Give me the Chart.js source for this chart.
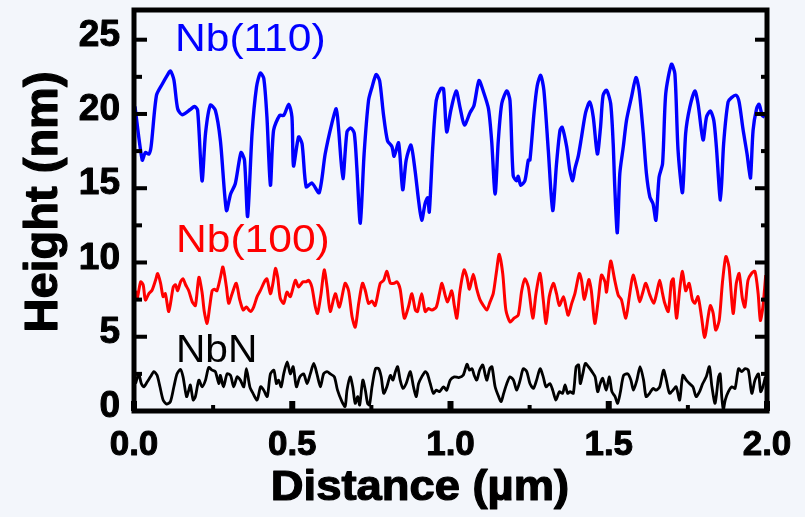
<!DOCTYPE html>
<html>
<head>
<meta charset="utf-8">
<script src="https://cdn.jsdelivr.net/npm/chart.js@4.4.1/dist/chart.umd.min.js"></script>
<style>
  body { margin: 0; background: #f3f6fb; }
</style>
</head>
<body>
<canvas id="perfil" width="805" height="517"></canvas>
<script>
// Nb(110) profile (blue)
const nb110X = [0.003,0.026,0.036,0.047,0.054,0.071,0.089,0.105,0.115,0.126,
  0.138,0.152,0.178,0.191,0.201,0.215,0.226,0.241,0.257,0.273,
  0.292,0.305,0.320,0.338,0.349,0.359,0.373,0.387,0.399,0.410,
  0.420,0.431,0.441,0.460,0.473,0.489,0.499,0.504,0.520,0.531,
  0.544,0.562,0.585,0.604,0.625,0.639,0.646,0.660,0.673,0.685,
  0.696,0.704,0.715,0.727,0.741,0.752,0.765,0.776,0.788,0.801,
  0.815,0.822,0.836,0.849,0.860,0.875,0.888,0.899,0.909,0.920,
  0.928,0.933,0.944,0.955,0.969,0.978,0.988,1.001,1.018,1.030,
  1.044,1.062,1.074,1.090,1.104,1.120,1.130,1.141,1.151,1.162,
  1.178,1.188,1.198,1.209,1.214,1.222,1.235,1.246,1.251,1.264,
  1.274,1.285,1.295,1.309,1.323,1.335,1.346,1.353,1.367,1.377,
  1.386,1.393,1.404,1.414,1.427,1.440,1.451,1.464,1.474,1.482,
  1.493,1.506,1.514,1.519,1.527,1.535,1.546,1.556,1.572,1.586,
  1.596,1.609,1.619,1.630,1.640,1.649,1.659,1.670,1.680,1.698,
  1.709,1.719,1.733,1.743,1.756,1.772,1.782,1.798,1.809,1.821,
  1.832,1.840,1.853,1.863,1.877,1.888,1.903,1.912,1.924,1.937,
  1.943,1.948,1.956,1.967,1.975,1.985,1.993];
const nb110Y = [20.5,16.9,17.4,17.3,17.8,21.25,22.0,22.6,22.9,22.3,
  20.35,19.95,20.3,20.5,20.25,15.5,18.7,20.6,20.25,18.2,
  13.5,14.6,15.3,17.4,16.9,13.1,18.7,21.8,22.75,22.4,
  19.8,15.2,18.9,19.9,19.9,20.65,19.8,16.5,18.45,18.0,
  15.1,15.35,14.7,17.3,19.35,20.35,19.1,15.65,18.8,19.05,
  18.7,16.4,12.65,17.3,20.9,21.8,22.65,22.25,20.0,18.2,
  17.8,17.15,18.05,14.9,16.9,17.9,16.2,14.2,12.85,14.0,
  14.35,13.4,17.8,20.9,21.7,21.7,18.8,20.25,21.55,20.45,
  19.25,20.1,20.55,22.25,21.5,20.35,18.2,14.6,18.2,20.7,
  21.55,20.9,15.85,15.5,15.8,15.2,15.5,16.9,16.9,20.1,
  21.9,22.6,21.6,17.55,13.5,16.65,18.9,19.1,17.8,16.2,
  15.5,16.3,17.2,18.45,20.1,20.8,19.8,17.3,19.1,21.25,
  21.6,20.7,18.0,15.1,12.0,16.0,17.8,19.55,21.15,22.45,
  21.6,18.7,16.0,14.4,13.95,12.85,15.75,16.65,21.35,23.35,
  22.7,17.55,14.7,18.7,20.45,21.55,20.7,18.25,19.8,20.2,
  19.55,17.8,14.2,18.0,20.8,21.1,21.25,20.8,19.0,17.3,
  16.3,15.7,18.9,20.35,20.65,19.9,19.8];

// Nb(100) profile (red)
const nb100X = [0.005,0.010,0.021,0.029,0.036,0.047,0.057,0.068,0.075,0.084,
  0.092,0.099,0.110,0.124,0.131,0.138,0.147,0.155,0.163,0.173,
  0.184,0.194,0.205,0.215,0.222,0.231,0.239,0.247,0.254,0.262,
  0.273,0.281,0.292,0.299,0.310,0.323,0.334,0.345,0.355,0.368,
  0.378,0.389,0.399,0.412,0.420,0.431,0.439,0.447,0.454,0.462,
  0.473,0.483,0.494,0.510,0.520,0.534,0.544,0.552,0.562,0.573,
  0.580,0.591,0.601,0.610,
  0.620,0.636,0.649,0.667,0.678,0.689,0.699,0.710,0.722,0.731,
  0.741,0.752,0.762,0.778,0.789,0.799,0.810,0.822,0.831,0.841,
  0.854,0.867,0.878,0.889,0.896,0.909,0.920,0.930,0.941,0.955,
  0.965,0.973,0.983,0.991,1.004,1.012,1.020,1.030,1.043,1.052,
  1.060,1.072,1.083,1.093,1.104,1.115,1.125,1.135,1.146,1.154,
  1.165,1.175,1.188,1.201,1.214,1.225,1.235,1.246,1.260,1.270,
  1.283,1.293,1.302,1.312,1.325,1.335,1.344,1.357,1.365,1.372,
  1.383,1.393,1.407,1.414,1.423,1.437,1.445,1.456,1.467,1.477,
  1.488,1.493,1.506,1.519,1.530,1.540,1.554,1.565,1.577,1.590,
  1.598,1.609,1.617,1.630,1.642,1.651,1.661,1.670,1.677,1.688,
  1.698,1.704,1.714,1.725,1.733,1.743,1.754,1.764,1.772,1.782,
  1.793,1.803,1.814,1.821,1.830,1.838,1.849,1.859,1.870,1.880,
  1.893,1.903,1.912,1.922,1.930,1.940,1.951,1.962,1.972,1.979,
  1.987,1.996];
const nb100Y = [8.1,7.57,8.7,8.5,7.47,7.9,8.13,8.8,9.26,8.6,
  7.7,7.9,6.7,8.35,8.5,8.1,8.7,8.9,8.5,8.1,
  7.35,7.1,9.0,8.0,6.7,5.9,7.0,8.1,8.2,8.1,
  9.0,9.7,8.35,7.25,7.9,8.6,7.5,6.8,7.0,6.7,
  7.0,7.7,8.1,8.7,8.9,7.9,8.6,9.6,9.0,7.6,
  7.25,8.0,7.7,8.8,8.35,8.7,8.7,8.8,8.35,7.0,
  6.57,7.9,9.5,8.35,
  6.7,7.9,7.0,8.6,8.1,6.35,5.65,7.25,8.6,8.1,
  7.25,7.4,7.1,8.6,8.8,9.4,8.6,8.6,8.7,8.2,
  6.25,7.0,7.9,6.8,6.7,7.9,6.7,6.9,6.8,7.0,
  7.9,8.6,7.8,7.35,8.1,7.1,6.25,8.1,9.5,9.0,
  8.2,9.2,8.2,7.5,7.1,6.8,7.35,7.9,9.5,10.55,
  9.26,6.8,6.0,6.25,6.45,8.1,8.9,8.35,6.25,7.9,
  9.26,7.5,5.9,7.7,8.6,7.9,7.1,7.7,7.0,6.45,
  7.25,7.9,9.26,8.8,7.5,8.85,8.1,5.9,7.5,9.15,
  8.7,8.0,10.1,8.8,7.8,7.5,6.25,7.7,9.15,8.1,
  7.35,8.1,8.6,7.8,7.25,7.9,8.8,7.9,7.25,6.7,
  8.7,8.9,6.25,8.35,9.4,8.1,8.6,7.5,7.25,7.7,
  6.35,4.95,6.35,7.1,6.57,5.45,6.1,8.6,10.4,9.7,
  6.57,8.6,9.26,7.6,7.0,8.8,9.26,9.4,7.9,6.1,
  7.0,9.15];

// NbN profile (black)
const nbnX = [0.005,0.015,0.023,0.031,0.042,0.052,0.063,0.073,0.082,0.092,
  0.103,0.115,0.126,0.136,0.147,0.155,0.166,0.173,0.178,0.187,
  0.194,0.205,0.215,0.226,0.236,0.247,0.257,0.268,0.273,0.283,
  0.294,0.305,0.315,0.326,0.336,0.347,0.355,0.366,0.376,0.389,
  0.400,0.410,0.421,0.431,0.442,0.450,0.457,0.465,0.473,0.484,
  0.494,0.503,0.513,0.524,0.536,0.547,0.557,0.568,0.578,0.589,
  0.599,0.610,
  0.620,0.633,0.643,0.657,0.667,0.673,0.683,0.691,0.699,0.707,
  0.713,0.723,0.731,0.738,0.744,0.752,0.763,0.773,0.781,0.789,
  0.799,0.810,0.818,0.826,0.833,0.841,0.850,0.860,0.873,0.883,
  0.892,0.899,0.909,0.920,0.927,0.936,0.946,0.955,0.965,0.978,
  0.988,0.999,1.012,1.026,1.040,1.052,1.060,1.068,1.075,1.083,
  1.092,1.102,1.110,1.115,1.124,1.131,1.141,1.152,1.160,1.168,
  1.178,1.188,1.199,1.209,1.220,1.230,1.241,1.251,1.262,1.272,
  1.283,1.293,1.302,1.314,1.323,1.333,1.344,1.354,1.362,1.370,
  1.378,1.388,1.397,1.405,1.410,1.418,1.426,1.436,1.447,1.457,
  1.465,1.473,1.481,1.492,1.502,1.510,1.520,1.528,1.536,1.547,
  1.560,1.570,1.578,1.589,1.599,1.610,1.618,1.629,1.640,1.650,
  1.661,1.673,1.682,1.692,1.703,1.713,1.724,1.734,1.745,1.755,
  1.766,1.776,1.787,1.797,1.808,1.818,1.826,1.836,1.847,1.852,
  1.857,1.862,1.868,1.878,1.889,1.899,1.910,1.920,1.931,1.941,
  1.952,1.962,1.973,1.980,1.987,1.995];
const nbnY = [1.85,2.5,1.85,1.63,1.97,2.3,2.65,2.4,1.63,0.74,
  0.47,0.63,1.63,2.5,2.8,2.3,0.97,1.4,1.75,0.74,
  0.97,2.08,1.63,2.08,2.93,2.75,2.65,1.85,2.4,1.63,
  2.5,2.4,1.63,2.3,2.08,1.63,2.85,1.63,1.19,0.74,
  1.63,1.4,0.97,2.5,2.75,1.85,2.08,1.63,2.5,3.3,
  2.5,2.98,1.63,2.3,2.5,1.85,2.5,3.2,2.5,1.63,
  2.5,2.65,
  2.5,2.3,1.4,0.63,0.3,1.4,2.3,1.63,0.52,0.97,
  0.4,2.08,1.4,0.52,0.4,1.63,2.85,2.85,2.3,1.19,
  1.63,2.4,2.08,2.65,2.98,2.08,1.52,1.85,2.65,1.63,
  0.97,1.85,2.3,2.65,2.5,1.85,1.19,1.4,1.3,1.63,
  1.4,2.08,2.3,2.25,2.4,3.15,2.75,2.85,2.4,2.08,
  2.75,3.1,2.4,2.08,2.85,2.98,1.63,0.97,0.63,1.19,
  1.85,2.3,2.08,1.4,2.08,2.85,2.65,1.85,1.52,2.08,
  2.85,2.3,1.63,1.85,1.4,0.74,1.3,1.19,1.75,1.19,
  1.3,1.19,2.98,3.1,1.85,2.5,3.2,2.98,2.65,2.3,
  1.3,1.85,2.2,1.4,2.3,1.3,0.97,0.52,1.19,2.4,
  2.5,2.08,1.4,2.08,2.98,2.08,0.97,1.19,1.52,1.4,
  1.63,2.75,2.08,1.19,1.4,1.63,0.74,2.4,2.08,1.85,
  1.63,0.97,1.3,1.85,2.3,2.98,1.63,0.52,2.3,2.5,
  0.97,0.08,0.74,1.3,1.63,1.52,2.85,2.65,2.85,2.75,
  1.19,2.08,2.5,1.3,1.63,2.3];

// axis ticks
const yMajor = [0, 5, 10, 15, 20, 25];
const yMinor = [2.5, 7.5, 12.5, 17.5, 22.5];
const xMajor = [0, 0.5, 1.0, 1.5, 2.0];
const xMinor = [0.25, 0.75, 1.25, 1.75];
const xLabels = ["0.0", "0.5", "1.0", "1.5", "2.0"];

const fonte = "'Liberation Sans', Arial, sans-serif";

function pontos(xs, ys) {
  return xs.map((x, i) => ({ x: x, y: ys[i] }));
}

function texto(c, s, x, y, font, cor, esticar) {
  c.save();
  c.translate(x, y);
  c.scale(esticar, 1);
  c.font = font;
  c.fillStyle = cor;
  c.textAlign = "left";
  c.textBaseline = "alphabetic";
  c.fillText(s, 0, 0);
  c.restore();
}

// bold text a bit heavier, like the original figure
function negrito(c, s, x, y) {
  c.fillText(s, x, y);
  c.strokeText(s, x, y);
}

const moldura = {
  id: "moldura",
  beforeDraw(chart) {
    const c = chart.ctx;
    c.save();
    c.fillStyle = "#f3f6fb";
    c.fillRect(0, 0, chart.width, chart.height);
    c.restore();
  },
  afterDraw(chart) {
    const c = chart.ctx;
    const a = chart.chartArea;
    const sx = chart.scales.x;
    const sy = chart.scales.y;
    c.save();
    c.fillStyle = "#000";
    yMajor.forEach(v => {
      const p = sy.getPixelForValue(v);
      c.fillRect(a.left, p - 2, 13, 4);
      c.fillRect(a.right - 12, p - 2, 12, 4);
    });
    yMinor.forEach(v => {
      const p = sy.getPixelForValue(v);
      c.fillRect(a.left, p - 2, 8, 4);
      c.fillRect(a.right - 6, p - 2, 6, 4);
    });
    xMajor.forEach(v => {
      const p = sx.getPixelForValue(v);
      c.fillRect(p - 3, a.bottom - 10, 6, 10);
    });
    xMinor.forEach(v => {
      const p = sx.getPixelForValue(v);
      c.fillRect(p - 2, a.bottom - 6, 4, 6);
    });
    c.strokeStyle = "#000";
    c.lineWidth = 5;
    c.strokeRect(a.left, a.top, a.right - a.left, a.bottom - a.top);

    // tick labels
    c.lineWidth = 1;
    c.lineJoin = "round";
    c.font = "bold 37px " + fonte;
    c.textAlign = "right";
    c.textBaseline = "middle";
    yMajor.forEach(v => negrito(c, String(v), 120, sy.getPixelForValue(v) - 4));
    c.font = "bold 35px " + fonte;
    c.textAlign = "center";
    c.textBaseline = "alphabetic";
    xMajor.forEach((v, i) => negrito(c, xLabels[i], sx.getPixelForValue(v), 455));

    // axis titles
    c.save();
    c.translate(57, 202);
    c.rotate(-Math.PI / 2);
    c.font = "bold 47px " + fonte;
    c.textAlign = "center";
    c.lineWidth = 1.2;
    negrito(c, "Height (nm)", 0, 0);
    c.restore();
    c.save();
    c.translate(420, 500);
    c.scale(1.08, 1);
    c.font = "bold 42px " + fonte;
    c.textAlign = "center";
    c.lineWidth = 1.2;
    negrito(c, "Distance (\u00b5m)", 0, 0);
    c.restore();

    // curve names
    texto(c, "Nb(110)", 175, 51, "38px " + fonte, "#0000ff", 1.12);
    texto(c, "Nb(100)", 176, 252, "38px " + fonte, "#ff0000", 1.12);
    texto(c, "NbN", 176, 362, "38px " + fonte, "#000000", 1.07);
    c.restore();
  }
};

const ctx = document.getElementById("perfil");

new Chart(ctx, {
  type: "line",
  data: {
    datasets: [
      {
        label: "Nb(110)",
        data: pontos(nb110X, nb110Y),
        borderColor: "#0000ff",
        borderWidth: 3.4,
      },
      {
        label: "Nb(100)",
        data: pontos(nb100X, nb100Y),
        borderColor: "#ff0000",
        borderWidth: 3,
      },
      {
        label: "NbN",
        data: pontos(nbnX, nbnY),
        borderColor: "#000000",
        borderWidth: 2.8,
      },
    ],
  },
  options: {
    responsive: false,
    animation: false,
    events: [],
    layout: {
      padding: { left: 134, right: 38, top: 10, bottom: 106 },
    },
    elements: {
      point: { radius: 0 },
      line: { tension: 0.25, fill: false },
    },
    plugins: {
      legend: { display: false },
      tooltip: { enabled: false },
    },
    scales: {
      x: { type: "linear", min: 0, max: 2, display: false },
      y: { type: "linear", min: 0, max: 27, display: false },
    },
  },
  plugins: [moldura],
});
</script>
</body>
</html>
